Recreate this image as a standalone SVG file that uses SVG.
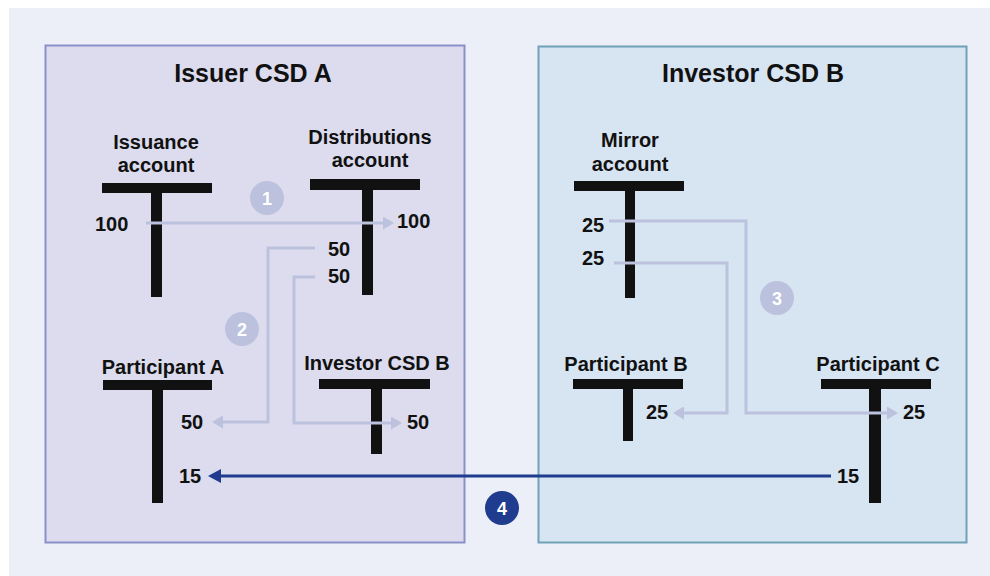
<svg xmlns="http://www.w3.org/2000/svg" width="990" height="576" viewBox="0 0 990 576">
<style>
text{font-family:"Liberation Sans",Arial,sans-serif;font-weight:bold;fill:#111}
.title{font-size:25px;text-anchor:middle}
.lbl{font-size:20px;text-anchor:middle}
.num{font-size:20px}
.bar{fill:#111}
.lc{fill:none;stroke:#bcc1dd;stroke-width:3}
.dc{fill:none;stroke:#1f3c8e;stroke-width:3}
.badge{fill:#bcc1dd}
.badge4{fill:#1f3c8e}
.bt{font-size:18px;fill:#fff;text-anchor:middle}
</style>
<defs>
<marker id="ah" markerUnits="userSpaceOnUse" markerWidth="11" markerHeight="13" refX="0" refY="6.5" orient="auto"><path d="M0,0 L11,6.5 L0,13 z" fill="#bcc1dd"/></marker>
<marker id="ahd" markerUnits="userSpaceOnUse" markerWidth="13" markerHeight="14" refX="0" refY="7" orient="auto"><path d="M0,0 L13,7 L0,14 z" fill="#1f3c8e"/></marker>
</defs>
<rect x="9" y="8" width="981" height="568" fill="#eceff8"/>
<g id="issuer-csd-a">
<rect x="45.5" y="45.5" width="419" height="497" fill="#dcdcee" stroke="#8c90c8" stroke-width="2"/>
<text class="title" x="253" y="82">Issuer CSD A</text>
</g>
<g id="investor-csd-b">
<rect x="538.5" y="46.5" width="428" height="496" fill="#d7e4f2" stroke="#6fa2b6" stroke-width="2"/>
<text class="title" x="753" y="82">Investor CSD B</text>
</g>
<g id="issuance-account">
<text class="lbl" x="156" y="149">Issuance</text>
<text class="lbl" x="156" y="172">account</text>
<rect class="bar" x="102" y="183" width="110" height="10"/>
<rect class="bar" x="151" y="183" width="11" height="114"/>
<text class="num" x="95" y="231">100</text>
</g>
<g id="distributions-account">
<text class="lbl" x="370" y="144">Distributions</text>
<text class="lbl" x="370" y="167">account</text>
<rect class="bar" x="310" y="179" width="110" height="11"/>
<rect class="bar" x="362" y="179" width="11" height="116"/>
<text class="num" x="397" y="228">100</text>
<text class="num" x="328" y="256">50</text>
<text class="num" x="328" y="283">50</text>
</g>
<g id="participant-a">
<text class="lbl" x="163" y="374">Participant A</text>
<rect class="bar" x="103" y="380" width="109" height="10"/>
<rect class="bar" x="152" y="380" width="11" height="123"/>
<text class="num" x="181" y="429">50</text>
<text class="num" x="179" y="483">15</text>
</g>
<g id="investor-csd-b-account">
<text class="lbl" x="377" y="370">Investor CSD B</text>
<rect class="bar" x="319" y="379" width="111" height="10"/>
<rect class="bar" x="371" y="379" width="11" height="75"/>
<text class="num" x="407" y="429">50</text>
</g>
<g id="mirror-account">
<text class="lbl" x="630" y="147">Mirror</text>
<text class="lbl" x="630" y="171">account</text>
<rect class="bar" x="574" y="181" width="110" height="10"/>
<rect class="bar" x="625" y="181" width="10" height="117"/>
<text class="num" x="582" y="232">25</text>
<text class="num" x="582" y="265">25</text>
</g>
<g id="participant-b">
<text class="lbl" x="626" y="371">Participant B</text>
<rect class="bar" x="573" y="379" width="110" height="10"/>
<rect class="bar" x="623" y="379" width="10" height="62"/>
<text class="num" x="646" y="419">25</text>
</g>
<g id="participant-c">
<text class="lbl" x="878" y="371">Participant C</text>
<rect class="bar" x="821" y="379" width="110" height="10"/>
<rect class="bar" x="869" y="379" width="12" height="124"/>
<text class="num" x="903" y="419">25</text>
<text class="num" x="837" y="483">15</text>
</g>
<g id="connectors">
<path class="lc" d="M146,223 H383" marker-end="url(#ah)"/>
<path class="lc" d="M315,248 H268 V422 H223" marker-end="url(#ah)"/>
<path class="lc" d="M315,277 H294 V423 H391" marker-end="url(#ah)"/>
<path class="lc" d="M609,221 H746 V413 H887" marker-end="url(#ah)"/>
<path class="lc" d="M614,263 H727 V413 H684" marker-end="url(#ah)"/>
<path class="dc" d="M831,476 H221" marker-end="url(#ahd)"/>
</g>
<g id="step-1"><circle class="badge" cx="267" cy="198" r="17"/><text class="bt" x="267" y="205">1</text></g>
<g id="step-2"><circle class="badge" cx="242" cy="329" r="17"/><text class="bt" x="242" y="336">2</text></g>
<g id="step-3"><circle class="badge" cx="777" cy="298" r="17"/><text class="bt" x="777" y="305">3</text></g>
<g id="step-4"><circle class="badge4" cx="502" cy="508" r="17"/><text class="bt" x="502" y="515">4</text></g>
</svg>
